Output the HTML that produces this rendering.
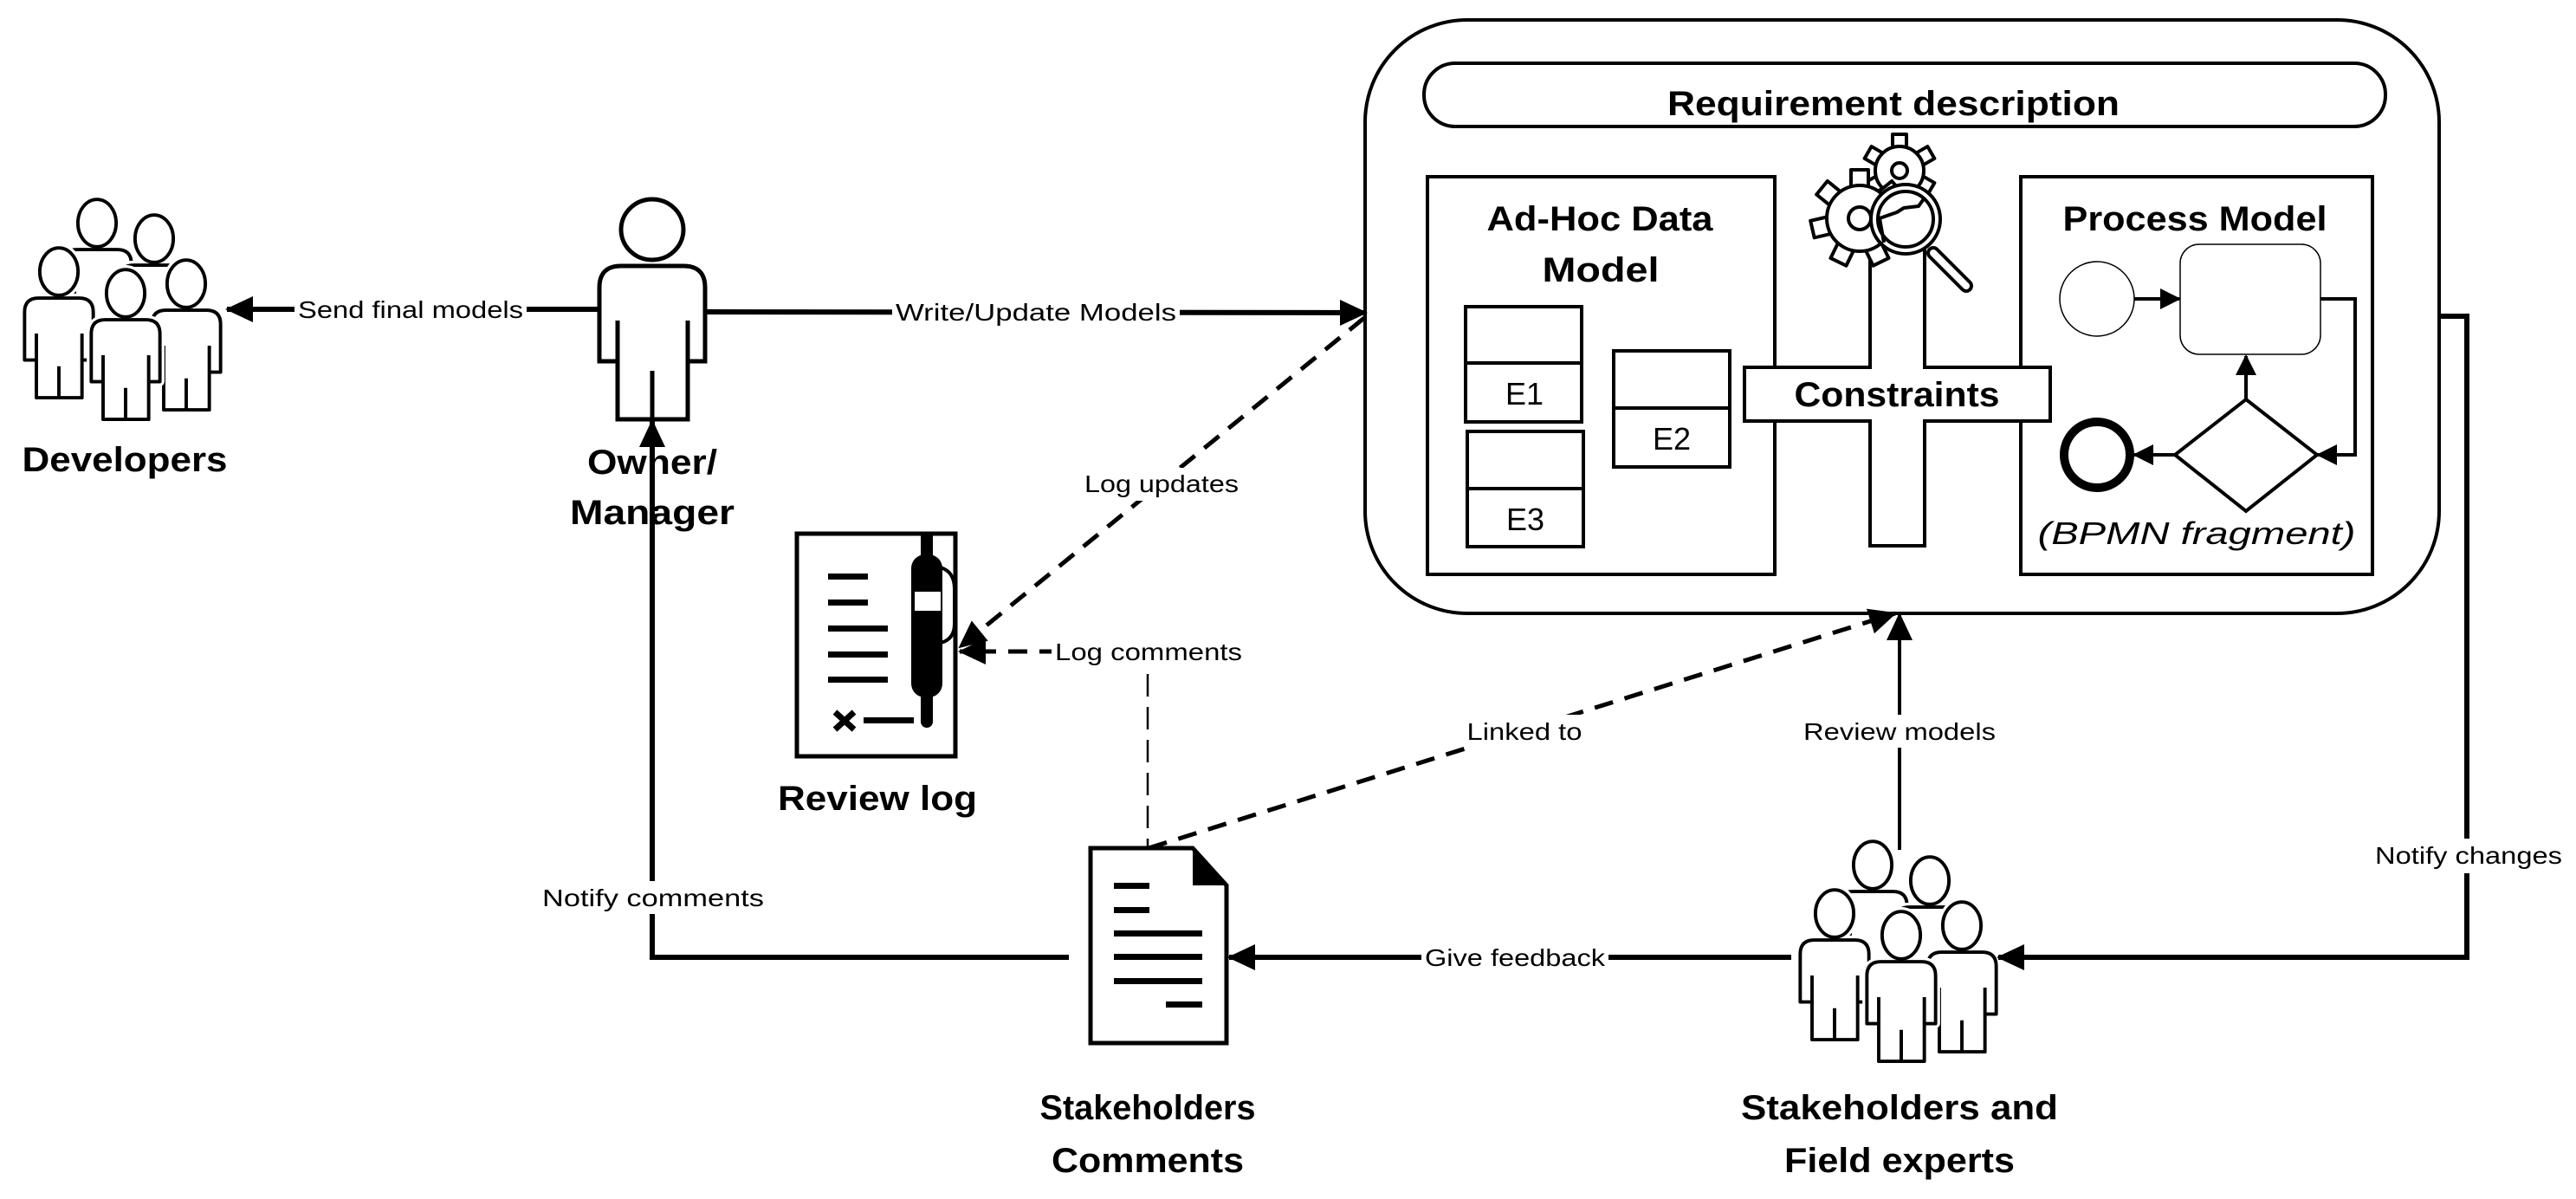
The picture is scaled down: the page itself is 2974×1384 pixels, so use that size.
<!DOCTYPE html>
<html><head><meta charset="utf-8"><style>
html,body{margin:0;padding:0;background:#fff;}
svg{display:block;}
text{font-family:"Liberation Sans",sans-serif;fill:#000;}
.b{font-weight:bold;font-size:40px;}
.l{font-size:28px;}
</style></head><body>
<svg width="2974" height="1384" viewBox="0 0 2974 1384" xmlns="http://www.w3.org/2000/svg">
<defs>
<marker id="ah" markerUnits="userSpaceOnUse" markerWidth="32" markerHeight="30" refX="30" refY="15" orient="auto">
<path d="M0,0 L32,15 L0,30 Z" fill="#000"/></marker>
<marker id="as" markerUnits="userSpaceOnUse" markerWidth="24" markerHeight="24" refX="22" refY="12" orient="auto">
<path d="M0,0 L24,12 L0,24 Z" fill="#000"/></marker>
<g id="ph">
<ellipse cx="0" cy="35" rx="36" ry="35"/>
<path d="M-61,187 V102 Q-61,77 -36,77 H36 Q61,77 61,102 V187 H41 V254 H-40 V187 Z"/>
</g>
<g id="pg">
<ellipse cx="0" cy="30" rx="34" ry="42"/>
<path d="M-61,187 V102 Q-61,77 -36,77 H36 Q61,77 61,102 V187 H41 V254 H-40 V187 Z"/>
</g>
<g id="pl">
<path d="M-40,140 V187 M41,140 V187 M0,198 V254"/>
</g>
<g id="t1"><rect x="-8" y="-42" width="16" height="16"/></g>
<g id="t2"><rect x="-10" y="-56" width="20" height="20"/></g>
</defs>

<!-- Developers group -->
<g fill="#fff" stroke-linejoin="round">
<g transform="translate(112,238) scale(0.65)"><use href="#pg" stroke="#fff" stroke-width="16"/><use href="#pg" stroke="#000" stroke-width="6"/><use href="#pl" stroke="#000" stroke-width="6"/></g>
<g transform="translate(178,256) scale(0.65)"><use href="#pg" stroke="#fff" stroke-width="16"/><use href="#pg" stroke="#000" stroke-width="6"/><use href="#pl" stroke="#000" stroke-width="6"/></g>
<g transform="translate(68,294) scale(0.65)"><use href="#pg" stroke="#fff" stroke-width="16"/><use href="#pg" stroke="#000" stroke-width="6"/><use href="#pl" stroke="#000" stroke-width="6"/></g>
<g transform="translate(215,308) scale(0.65)"><use href="#pg" stroke="#fff" stroke-width="16"/><use href="#pg" stroke="#000" stroke-width="6"/><use href="#pl" stroke="#000" stroke-width="6"/></g>
<g transform="translate(145,319) scale(0.65)"><use href="#pg" stroke="#fff" stroke-width="16"/><use href="#pg" stroke="#000" stroke-width="6"/><use href="#pl" stroke="#000" stroke-width="6"/></g>
</g>
<text class="b" x="144" y="544" text-anchor="middle" textLength="237" lengthAdjust="spacingAndGlyphs">Developers</text>

<!-- Stakeholders group -->
<g fill="#fff" stroke-linejoin="round">
<g transform="translate(2162,979) scale(0.65)"><use href="#pg" stroke="#fff" stroke-width="16"/><use href="#pg" stroke="#000" stroke-width="6"/><use href="#pl" stroke="#000" stroke-width="6"/></g>
<g transform="translate(2228,997) scale(0.65)"><use href="#pg" stroke="#fff" stroke-width="16"/><use href="#pg" stroke="#000" stroke-width="6"/><use href="#pl" stroke="#000" stroke-width="6"/></g>
<g transform="translate(2118,1035) scale(0.65)"><use href="#pg" stroke="#fff" stroke-width="16"/><use href="#pg" stroke="#000" stroke-width="6"/><use href="#pl" stroke="#000" stroke-width="6"/></g>
<g transform="translate(2265,1049) scale(0.65)"><use href="#pg" stroke="#fff" stroke-width="16"/><use href="#pg" stroke="#000" stroke-width="6"/><use href="#pl" stroke="#000" stroke-width="6"/></g>
<g transform="translate(2195,1060) scale(0.65)"><use href="#pg" stroke="#fff" stroke-width="16"/><use href="#pg" stroke="#000" stroke-width="6"/><use href="#pl" stroke="#000" stroke-width="6"/></g>
</g>
<text class="b" x="2193" y="1292" text-anchor="middle" textLength="366" lengthAdjust="spacingAndGlyphs">Stakeholders and</text>
<text class="b" x="2193" y="1353" text-anchor="middle" textLength="266" lengthAdjust="spacingAndGlyphs">Field experts</text>

<!-- Owner -->
<g transform="translate(753,230)" fill="#fff"><use href="#ph" stroke="#000" stroke-width="5"/><use href="#pl" stroke="#000" stroke-width="5"/></g>

<!-- connectors solid -->
<g stroke="#000" stroke-width="6" fill="none">
<line x1="692" y1="357" x2="262" y2="357" marker-end="url(#ah)"/>
<line x1="814" y1="360" x2="1577" y2="361" marker-end="url(#ah)"/>
<polyline points="1234,1105 753,1105 753,486" marker-end="url(#ah)"/>
<line x1="2068" y1="1105" x2="1419" y2="1105" marker-end="url(#ah)"/>
<line x1="2193" y1="981" x2="2193" y2="709" stroke-width="4" marker-end="url(#ah)"/>
<polyline points="2816,365 2848,365 2848,1105 2307,1105" marker-end="url(#ah)"/>
</g>
<!-- dashed -->
<g stroke="#000" stroke-width="5" fill="none" stroke-dasharray="22 14">
<line x1="1575" y1="367" x2="1108" y2="747" marker-end="url(#ah)"/>
<line x1="1330" y1="752" x2="1108" y2="752" marker-end="url(#ah)"/>
<line x1="1326" y1="979" x2="2188" y2="708" marker-end="url(#ah)"/>
<line x1="1325" y1="778" x2="1325" y2="979" stroke-width="2.5" stroke-dasharray="26 12"/>
</g>

<!-- edge labels -->
<rect x="340" y="338" width="268" height="38" fill="#fff"/>
<text class="l" x="474" y="367" text-anchor="middle" textLength="260" lengthAdjust="spacingAndGlyphs">Send final models</text>
<rect x="1030" y="340" width="332" height="38" fill="#fff"/>
<text class="l" x="1196" y="370" text-anchor="middle" textLength="324" lengthAdjust="spacingAndGlyphs">Write/Update Models</text>
<rect x="1248" y="540" width="186" height="38" fill="#fff"/>
<text class="l" x="1341" y="568" text-anchor="middle" textLength="178" lengthAdjust="spacingAndGlyphs">Log updates</text>
<rect x="1214" y="733" width="224" height="38" fill="#fff"/>
<text class="l" x="1326" y="762" text-anchor="middle" textLength="216" lengthAdjust="spacingAndGlyphs">Log comments</text>
<rect x="1690" y="825" width="140" height="38" fill="#fff"/>
<text class="l" x="1760" y="854" text-anchor="middle" textLength="133" lengthAdjust="spacingAndGlyphs">Linked to</text>
<rect x="2080" y="825" width="228" height="38" fill="#fff"/>
<text class="l" x="2193" y="854" text-anchor="middle" textLength="222" lengthAdjust="spacingAndGlyphs">Review models</text>
<rect x="1641" y="1086" width="216" height="38" fill="#fff"/>
<text class="l" x="1749" y="1115" text-anchor="middle" textLength="208" lengthAdjust="spacingAndGlyphs">Give feedback</text>
<rect x="622" y="1017" width="264" height="38" fill="#fff"/>
<text class="l" x="754" y="1046" text-anchor="middle" textLength="256" lengthAdjust="spacingAndGlyphs">Notify comments</text>
<rect x="2738" y="968" width="224" height="40" fill="#fff"/>
<text class="l" x="2850" y="997" text-anchor="middle" textLength="216" lengthAdjust="spacingAndGlyphs">Notify changes</text>

<text class="b" x="753" y="547" text-anchor="middle" textLength="150" lengthAdjust="spacingAndGlyphs">Owner/</text>
<text class="b" x="753" y="605" text-anchor="middle" textLength="190" lengthAdjust="spacingAndGlyphs">Manager</text>
<line x1="753" y1="515" x2="753" y2="610" stroke="#000" stroke-width="6"/>

<!-- Review log -->
<rect x="920" y="616" width="183" height="257" fill="#fff" stroke="#000" stroke-width="5"/>
<g fill="#000">
<rect x="956" y="662" width="46" height="7"/><rect x="956" y="692" width="46" height="7"/>
<rect x="956" y="722" width="69" height="7"/><rect x="956" y="752" width="69" height="7"/><rect x="956" y="781" width="69" height="7"/>
<rect x="997" y="828" width="58" height="7"/>
<rect x="1063" y="616" width="14" height="40"/>
<rect x="1052" y="640" width="36" height="165" rx="16"/>
<rect x="1063" y="795" width="14" height="45" rx="7"/>
</g>
<rect x="1056" y="683" width="30" height="22" fill="#fff"/>
<path d="M1086,655 Q1102,660 1102,680 V720 Q1102,738 1086,742" fill="none" stroke="#000" stroke-width="4"/>
<path d="M964,822 L986,842 M986,822 L964,842" stroke="#000" stroke-width="7"/>
<text class="b" x="1013" y="935" text-anchor="middle" textLength="230" lengthAdjust="spacingAndGlyphs">Review log</text>

<!-- Comments doc -->
<path d="M1259,979 H1377 L1416,1022 V1204 H1259 Z" fill="#fff" stroke="#000" stroke-width="5"/>
<path d="M1377,979 L1416,1022 H1377 Z" fill="#000"/>
<g fill="#000">
<rect x="1286" y="1019" width="41" height="7"/><rect x="1286" y="1047" width="41" height="7"/>
<rect x="1286" y="1074" width="102" height="7"/><rect x="1286" y="1101" width="102" height="7"/><rect x="1286" y="1129" width="102" height="7"/>
<rect x="1346" y="1156" width="42" height="7"/>
</g>
<text class="b" x="1325" y="1292" text-anchor="middle" textLength="249" lengthAdjust="spacingAndGlyphs">Stakeholders</text>
<text class="b" x="1325" y="1353" text-anchor="middle" textLength="222" lengthAdjust="spacingAndGlyphs">Comments</text>

<!-- Requirement container -->
<rect x="1576" y="23" width="1240" height="685" rx="118" ry="118" fill="none" stroke="#000" stroke-width="4"/>
<rect x="1644" y="73" width="1110" height="73" rx="36" ry="36" fill="none" stroke="#000" stroke-width="4"/>
<text class="b" x="2186" y="133" text-anchor="middle" textLength="522" lengthAdjust="spacingAndGlyphs">Requirement description</text>

<!-- Ad-hoc -->
<rect x="1648" y="204" width="401" height="459" fill="none" stroke="#000" stroke-width="4"/>
<text class="b" x="1847" y="266" text-anchor="middle" textLength="261" lengthAdjust="spacingAndGlyphs">Ad-Hoc Data</text>
<text class="b" x="1848" y="325" text-anchor="middle" textLength="135" lengthAdjust="spacingAndGlyphs">Model</text>
<g fill="none" stroke="#000" stroke-width="4">
<rect x="1692" y="354" width="134" height="133"/><line x1="1692" y1="419" x2="1826" y2="419"/>
<rect x="1694" y="498" width="134" height="133"/><line x1="1694" y1="564" x2="1828" y2="564"/>
<rect x="1863" y="405" width="134" height="134"/><line x1="1863" y1="471" x2="1997" y2="471"/>
</g>
<text x="1760" y="467" text-anchor="middle" style="font-size:36px">E1</text>
<text x="1761" y="612" text-anchor="middle" style="font-size:36px">E3</text>
<text x="1930" y="519" text-anchor="middle" style="font-size:36px">E2</text>

<!-- Process model -->
<rect x="2333" y="204" width="406" height="459" fill="none" stroke="#000" stroke-width="4"/>
<text class="b" x="2534" y="266" text-anchor="middle" textLength="305" lengthAdjust="spacingAndGlyphs">Process Model</text>
<ellipse cx="2421" cy="345" rx="43" ry="43" fill="none" stroke="#000" stroke-width="1.5"/>
<rect x="2517" y="282" width="162" height="127" rx="22" fill="none" stroke="#000" stroke-width="1.5"/>
<g stroke="#000" stroke-width="4" fill="none">
<line x1="2464" y1="345" x2="2516" y2="345" marker-end="url(#as)"/>
<polyline points="2679,345 2719,345 2719,525 2676,525" marker-end="url(#as)"/>
<line x1="2593" y1="461" x2="2593" y2="411" marker-end="url(#as)"/>
<line x1="2511" y1="525" x2="2464" y2="525" marker-end="url(#as)"/>
<path d="M2593,461 L2675,525 L2593,590 L2511,525 Z"/>
</g>
<circle cx="2421" cy="525" r="38" fill="none" stroke="#000" stroke-width="10"/>
<text x="2536" y="628" text-anchor="middle" font-style="italic" style="font-size:36px" textLength="367" lengthAdjust="spacingAndGlyphs">(BPMN fragment)</text>

<!-- Constraints cross -->
<path d="M2159,285 V424 H2014 V486 H2159 V630 H2222 V486 H2367 V424 H2222 V285 Z" fill="#fff" stroke="#000" stroke-width="4"/>
<text class="b" x="2190" y="469" text-anchor="middle" textLength="237" lengthAdjust="spacingAndGlyphs">Constraints</text>

<!-- gears & magnifier -->
<g stroke="#000" stroke-width="4" fill="#fff" stroke-linejoin="round">
<g transform="translate(2193,197)">
<use href="#t1"/><use href="#t1" transform="rotate(60)"/><use href="#t1" transform="rotate(120)"/><use href="#t1" transform="rotate(180)"/><use href="#t1" transform="rotate(240)"/><use href="#t1" transform="rotate(300)"/>
<circle r="28"/>
<circle r="9"/>
</g>
<g transform="translate(2147,252)">
<use href="#t2"/><use href="#t2" transform="rotate(51)"/><use href="#t2" transform="rotate(103)"/><use href="#t2" transform="rotate(154)"/><use href="#t2" transform="rotate(206)"/><use href="#t2" transform="rotate(257)"/><use href="#t2" transform="rotate(309)"/>
<circle r="38"/>
<circle r="13"/>
</g>
<line x1="2232" y1="292" x2="2270" y2="330" stroke-width="16" stroke-linecap="round"/>
<line x1="2232" y1="292" x2="2270" y2="330" stroke="#fff" stroke-width="8" stroke-linecap="round"/>
<circle cx="2200" cy="253" r="40"/>
<circle cx="2200" cy="253" r="32" fill="none"/>
<polyline points="2175,280 2170,252 2190,245 2198,240 2215,238 2222,228" fill="none"/>
</g>
</svg>
</body></html>
